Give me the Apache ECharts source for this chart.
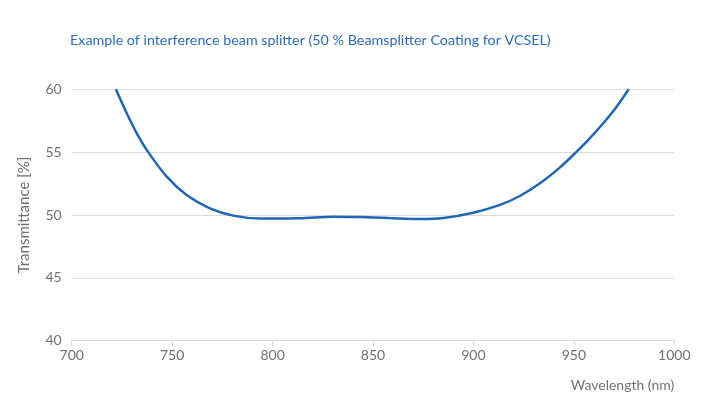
<!DOCTYPE html>
<html><head><meta charset="utf-8">
<script src="https://cdn.jsdelivr.net/npm/echarts@6/dist/echarts.min.js"></script>
<style>html,body{margin:0;padding:0;background:#fff}#c{width:720px;height:412px}</style>
</head><body><div id="c"></div>
<script>
const titleText = 'Example of interference beam splitter (50 % Beamsplitter Coating for VCSEL)';
const xAxisName = 'Wavelength (nm)';
const yAxisName = 'Transmittance [%]';
const wavelength = [722, 727.4, 732.4, 738.1, 747.3, 757.2, 768.8, 780.4, 793.7, 813.6, 830, 843.5, 858, 873.4, 885, 899.9, 913.2, 923.1, 933.1, 943.1, 951.4, 957.2, 964.6, 971.3, 977.3];
const transmittance = [60, 58.09, 56.5, 55.0, 53.05, 51.59, 50.53, 49.95, 49.72, 49.74, 49.87, 49.84, 49.76, 49.68, 49.76, 50.18, 50.8, 51.51, 52.52, 53.79, 55.04, 55.97, 57.3, 58.62, 60];
const font = 'Lato';
const chart = echarts.init(document.getElementById('c'));
chart.setOption({
  animation: false,
  title: { text: titleText, left: 65, top: 28, textStyle: { color: '#2b6cb8', fontSize: 14.3, fontWeight: 'normal', fontFamily: font } },
  grid: { left: 71.7, right: 45.7, top: 89.3, bottom: 71.3 },
  xAxis: {
    type: 'value', min: 700, max: 1000, interval: 50,
    name: xAxisName, nameLocation: 'end', nameGap: 0,
    nameTextStyle: { align: 'right', verticalAlign: 'top', padding: [38, 0, 0, 0], color: '#707070', fontSize: 14, fontFamily: font },
    axisLine: { lineStyle: { color: '#d9d9d9' } },
    axisTick: { show: true, length: 5, lineStyle: { color: '#d9d9d9' } },
    axisLabel: { color: '#707070', fontSize: 14, fontFamily: font, margin: 8, formatter: v => String(v) },
    splitLine: { show: false }
  },
  yAxis: {
    type: 'value', min: 40, max: 60, interval: 5,
    name: yAxisName, nameLocation: 'middle', nameGap: 40, nameRotate: 90,
    nameTextStyle: { color: '#707070', fontSize: 15, fontFamily: font },
    axisLine: { show: false }, axisTick: { show: false },
    axisLabel: { color: '#707070', fontSize: 14, fontFamily: font, margin: 10 },
    splitLine: { lineStyle: { color: '#dcdcdc' } }
  },
  series: [{
    type: 'line', smooth: 0.3, symbol: 'none',
    data: wavelength.map((w, i) => [w, transmittance[i]]),
    lineStyle: { color: '#1f66b5', width: 2.5 }
  }]
});
</script></body></html>
